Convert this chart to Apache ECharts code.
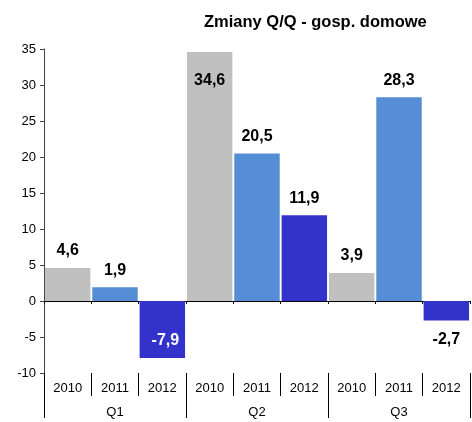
<!DOCTYPE html>
<html>
<head>
<meta charset="utf-8">
<script src="https://cdn.jsdelivr.net/npm/echarts@6/dist/echarts.min.js"></script>
<style>
  html, body { margin: 0; padding: 0; background: #fff; }
  #chart { width: 472px; height: 422px; }
</style>
</head>
<body>
<div id="chart"></div>
<script>
// data
var years = ['2010', '2011', '2012', '2010', '2011', '2012', '2010', '2011', '2012'];
var quarters = ['Q1', 'Q2', 'Q3'];
var values = [4.6, 1.9, -7.9, 34.6, 20.5, 11.9, 3.9, 28.3, -2.7];
var yearColors = { '2010': '#c0c0c0', '2011': '#558ed5', '2012': '#3333cc' };

var font = 'Liberation Sans, Arial, sans-serif';

function labelFor(v, i) {
    var lab = {
        show: true,
        position: 'top',
        distance: 9,
        color: '#000',
        fontFamily: font,
        fontSize: 16,
        fontWeight: 'bold',
        formatter: function (p) { return String(p.value).replace('.', ','); }
    };
    if (v > 30) {
        lab.position = 'insideTop';
        lab.distance = 21;
    } else if (v < -5) {
        lab.position = 'insideBottom';
        lab.distance = 9;
        lab.color = '#fff';
        lab.offset = [3, 0];
    } else if (v < 0) {
        lab.position = 'bottom';
        lab.distance = 11;
    }
    return lab;
}

var barData = [];
for (var i = 0; i < values.length; i++) {
    barData.push({
        value: values[i],
        itemStyle: { color: yearColors[years[i]] },
        label: labelFor(values[i], i)
    });
}

var myChart = echarts.init(document.getElementById('chart'));

var option = {
    animation: false,
    title: {
        text: 'Zmiany Q/Q - gosp. domowe',
        left: 199,
        top: 9,
        textStyle: { fontFamily: font, fontSize: 16.5, fontWeight: 'bold', color: '#000' }
    },
    grid: { left: 44, right: 2, top: 49, bottom: 49 },
    xAxis: [{
        type: 'category',
        data: years,
        position: 'bottom',
        axisLine: { onZero: true, lineStyle: { color: '#000', width: 1 } },
        axisTick: { show: true, length: 3, lineStyle: { color: '#000' } },
        axisLabel: { show: false }
    }, {
        type: 'category',
        data: years,
        position: 'bottom',
        offset: 0,
        axisLine: { show: false, onZero: false },
        axisTick: { show: true, length: 23, lineStyle: { color: '#000' } },
        axisLabel: { margin: 9, color: '#000', fontFamily: font, fontSize: 13 }
    }, {
        type: 'category',
        data: quarters,
        position: 'bottom',
        offset: 0,
        axisLine: { show: false, onZero: false },
        axisTick: { show: true, length: 45, lineStyle: { color: '#000' } },
        axisLabel: { margin: 33, color: '#000', fontFamily: font, fontSize: 13 }
    }],
    yAxis: {
        type: 'value',
        min: -10,
        max: 35,
        interval: 5,
        splitLine: { show: false },
        axisLine: { show: true, lineStyle: { color: '#444' } },
        axisTick: { show: true, length: 4, lineStyle: { color: '#444' } },
        axisLabel: { margin: 8, color: '#000', fontFamily: font, fontSize: 13 }
    },
    series: [{
        type: 'bar',
        xAxisIndex: 0,
        data: barData,
        barCategoryGap: '4%'
    }]
};

myChart.setOption(option);
</script>
</body>
</html>
